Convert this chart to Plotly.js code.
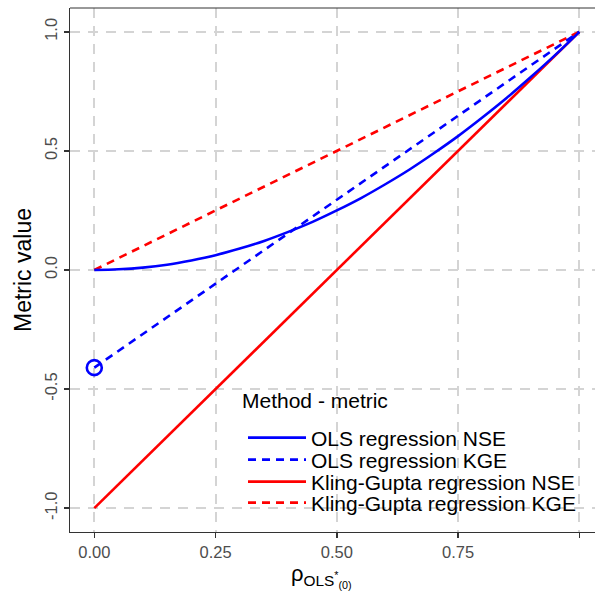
<!DOCTYPE html>
<html>
<head>
<meta charset="utf-8">
<script src="https://cdn.plot.ly/plotly-3.0.1.min.js"></script>
<style>html,body{margin:0;padding:0;background:#fff;}#chart{width:595px;height:592px;}</style>
</head>
<body>
<div id="chart"></div>
<script>
// Data
var rhoCurve = [0,0.05,0.10,0.15,0.20,0.25,0.30,0.35,0.40,0.45,0.50,0.55,0.60,0.65,0.70,0.75,0.80,0.85,0.90,0.95,1.00];
var olsNSE   = [0,0.003,0.01,0.022,0.04,0.062,0.09,0.122,0.16,0.202,0.25,0.302,0.36,0.422,0.49,0.562,0.64,0.722,0.81,0.902,1.00];
var rhoEnds  = [0, 1];
var olsKGE   = [-0.41, 1.00];
var kgNSE    = [-1.00, 1.00];
var kgKGE    = [0.00, 1.00];
var pointX   = [0];
var pointY   = [-0.41];
var seriesNames = ["OLS regression NSE","OLS regression KGE","Kling-Gupta regression NSE","Kling-Gupta regression KGE"];
var legendTitle = "Method - metric";
var xTicks = [0,0.25,0.5,0.75,1];
var xTickText = ["0.00","0.25","0.50","0.75","1.00"];
var yTicks = [-1,-0.5,0,0.5,1];
var yTickText = ["-1.0","-0.5","0.0","0.5","1.0"];

var BLUE = "#0000FF", RED = "#FF0000";
var LW = 2.6, DASH = "8px,6px";
var FONT = "Liberation Sans, Arial, sans-serif";

var traces = [
  {x: rhoEnds, y: kgNSE, mode: "lines", name: seriesNames[2], legend: "legend3",
   line: {color: RED, width: LW}},
  {x: rhoEnds, y: kgKGE, mode: "lines", name: seriesNames[3], legend: "legend4",
   line: {color: RED, width: LW, dash: DASH}},
  {x: rhoEnds, y: olsKGE, mode: "lines", name: seriesNames[1], legend: "legend2",
   line: {color: BLUE, width: LW, dash: DASH}},
  {x: rhoCurve, y: olsNSE, mode: "lines", name: seriesNames[0], legend: "legend",
   line: {color: BLUE, width: LW, shape: "spline"}},
  {x: pointX, y: pointY, mode: "markers", showlegend: false,
   marker: {symbol: "circle-open", size: 15, color: BLUE, line: {width: 2.6, color: BLUE}}}
];

var axisCommon = {
  showgrid: true, gridcolor: "#d4d4d4", gridwidth: 2, griddash: "10px,8px",
  zeroline: false, showline: true, linecolor: "#333333", linewidth: 1,
  ticks: "outside", ticklen: 5, tickwidth: 1.4, tickcolor: "#333333",
  tickfont: {family: FONT, size: 16.5, color: "#4d4d4d"}
};

function legendAt(yPix) {
  return {
    x: (243 - 70) / 525, y: (532 - yPix) / 524, xanchor: "left", yanchor: "middle",
    bgcolor: "rgba(0,0,0,0)", borderwidth: 0, font: {family: FONT, size: 21, color: "#000000"},
    itemwidth: 58, tracegroupgap: 0
  };
}

var layout = {
  width: 595, height: 592,
  margin: {l: 70, r: 0, t: 8, b: 60},
  paper_bgcolor: "#ffffff", plot_bgcolor: "#ffffff",
  font: {family: FONT},
  xaxis: Object.assign({}, axisCommon, {
    range: [-0.0501, 1.0323], tickvals: xTicks, ticktext: xTickText, mirror: false
  }),
  yaxis: Object.assign({}, axisCommon, {
    range: [-1.1, 1.1], tickvals: yTicks, ticktext: yTickText, tickangle: -90,
    title: {text: "Metric value", font: {family: FONT, size: 23, color: "#000000"}, standoff: 4}
  }),
  shapes: [
    {type: "line", xref: "paper", yref: "paper", x0: 0, x1: 1, y0: 1, y1: 1,
     line: {color: "#333333", width: 1}},
    {type: "rect", xref: "paper", yref: "paper", layer: "below",
     x0: (236 - 70) / 525, x1: 1, y0: (532 - 516) / 524, y1: (532 - 386) / 524,
     fillcolor: "#ffffff", line: {width: 0}}
  ],
  annotations: [
    {xref: "paper", yref: "paper", x: (289 - 70) / 525, y: (532 - 576) / 524, xanchor: "left", yanchor: "middle",
     showarrow: false, text: "ρ<sub>OLS<sup>*</sup><sub>(0)</sub></sub>",
     font: {family: FONT, size: 22, color: "#000000"}},
    {xref: "paper", yref: "paper", x: (240 - 70) / 525, y: (532 - 400) / 524, xanchor: "left", yanchor: "middle",
     showarrow: false, text: legendTitle,
     font: {family: FONT, size: 21, color: "#000000"}}
  ],
  legend: legendAt(438),
  legend2: legendAt(460),
  legend3: legendAt(482),
  legend4: legendAt(503),
  showlegend: true
};

Plotly.newPlot("chart", traces, layout, {displayModeBar: false, staticPlot: true});
</script>
</body>
</html>
